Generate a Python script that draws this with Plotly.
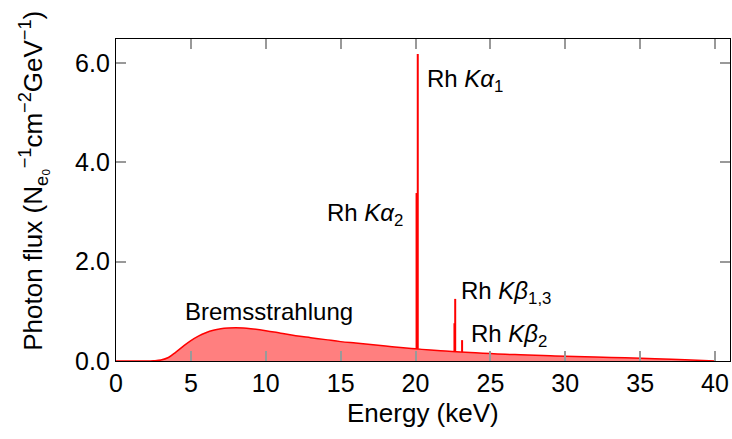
import plotly.graph_objects as go

# Bremsstrahlung continuum (keV, flux)
energy = [0, 1, 2, 2.5, 3, 3.5, 4, 4.5, 5, 5.5, 6, 6.5, 7, 7.5, 8, 8.5, 9, 10, 11, 12, 13,
          14, 15, 16, 17, 18, 19, 20, 21, 22, 23, 24, 25, 26, 27, 28, 29, 30, 32, 34, 36, 38, 40]
flux = [0.0, 0.0, 0.0, 0.005, 0.02, 0.07, 0.18, 0.30, 0.41, 0.50, 0.57, 0.62, 0.65, 0.665, 0.67,
        0.665, 0.65, 0.61, 0.56, 0.51, 0.47, 0.43, 0.39, 0.36, 0.33, 0.30, 0.27, 0.245, 0.22,
        0.20, 0.18, 0.165, 0.15, 0.135, 0.125, 0.115, 0.105, 0.095, 0.08, 0.065, 0.045, 0.025, 0.0]

# Characteristic lines
line_energy = [20.07, 20.15, 22.60, 22.65, 23.11]
line_height = [3.38, 6.18, 0.76, 1.25, 0.42]
line_base = [0.245, 0.245, 0.19, 0.19, 0.18]

# Labels
label_text = ["Rh <i>Kα</i><sub>1</sub>", "Rh <i>Kα</i><sub>2</sub>",
              "Rh <i>Kβ</i><sub>1,3</sub>", "Rh <i>Kβ</i><sub>2</sub>", "Bremsstrahlung"]
label_x = [20.6, 19.3, 22.9, 23.6, 4.45]
label_y = [5.65, 2.95, 1.38, 0.52, 1.0]
label_anchor = ["left", "right", "left", "left", "left"]

x_ticks = [0, 5, 10, 15, 20, 25, 30, 35, 40]
y_ticks = [0.0, 2.0, 4.0, 6.0]

x_title = "Energy (keV)"
y_title = "Photon flux (N<sub>e₀</sub><sup>−1</sup>cm<sup>−2</sup>GeV<sup>−1</sup>)"

FONT = "Liberation Sans"
RED = "#ff0000"

fig = go.Figure()
fig.add_trace(go.Scatter(x=energy, y=flux, mode="lines", line=dict(color=RED, width=1.5, shape="spline"),
                         fill="tozeroy", fillcolor="rgba(255,0,0,0.5)", showlegend=False,
                         hoverinfo="skip"))

sx, sy = [], []
for e, h, b in zip(line_energy, line_height, line_base):
    sx += [e, e, None]
    sy += [b, h, None]
fig.add_trace(go.Scatter(x=sx, y=sy, mode="lines", line=dict(color=RED, width=2),
                         showlegend=False, hoverinfo="skip"))

for t, x, y, a in zip(label_text, label_x, label_y, label_anchor):
    fig.add_annotation(x=x, y=y, text=t, showarrow=False, xanchor=a, yanchor="middle",
                       font=dict(family=FONT, size=24, color="black"))

fig.add_annotation(x=0.5, y=-0.16, xref="paper", yref="paper", text=x_title, showarrow=False,
                   xanchor="center", yanchor="middle", font=dict(family=FONT, size=26, color="black"))
fig.add_annotation(x=-0.135, y=0.56, xref="paper", yref="paper", text=y_title, showarrow=False,
                   textangle=-90, xanchor="center", yanchor="middle",
                   font=dict(family=FONT, size=26, color="black"))

fig.update_layout(
    width=732, height=439,
    margin=dict(l=116, r=2, t=39, b=78),
    plot_bgcolor="white", paper_bgcolor="white",
    font=dict(family=FONT, size=25, color="black"),
    xaxis=dict(range=[0, 41], tickvals=x_ticks, ticks="inside", ticklen=10, tickwidth=1.5,
               tickcolor="#999999", showline=True, linecolor="black", linewidth=1.3,
               mirror="ticks", showgrid=False, zeroline=False, automargin=False,
               tickfont=dict(size=25)),
    yaxis=dict(range=[0, 6.48], tickvals=y_ticks, tickformat=".1f", ticks="inside", ticklen=10,
               tickwidth=1.5, tickcolor="#999999", showline=True, linecolor="black", linewidth=1.3,
               mirror="ticks", showgrid=False, zeroline=False, automargin=False,
               tickfont=dict(size=25)),
)

fig.write_html("out.html", config={"displayModeBar": False},
               post_script="document.body.style.margin='0';")
